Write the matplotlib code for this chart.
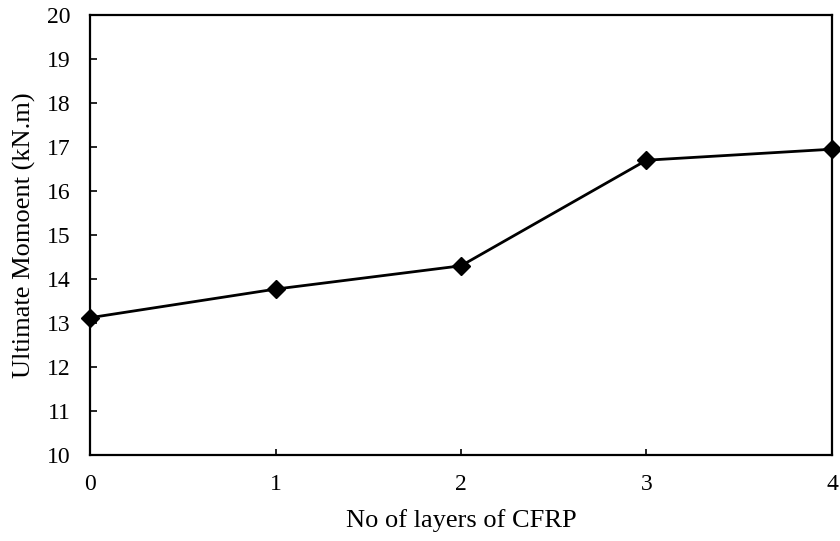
import matplotlib
matplotlib.use("Agg")
import matplotlib.pyplot as plt

# CFRP layer count vs. measured ultimate moment
layers = [0, 1, 2, 3, 4]
moment = [13.12, 13.77, 14.30, 16.70, 16.95]

y_ticks = list(range(10, 21))
x_ticks = [0, 1, 2, 3, 4]

plt.rcParams['font.family'] = ['Liberation Serif', 'DejaVu Serif']

fig = plt.figure(figsize=(8.4, 5.41), dpi=100)
ax = fig.add_axes([90 / 840, 1 - 455 / 541, 742 / 840, 440 / 541])

ax.plot(layers, moment, color='black', linewidth=2.0, marker='D',
        markersize=9, clip_on=False, zorder=3)

ax.set_xlim(0, 4)
ax.set_ylim(10, 20)
ax.set_xticks(x_ticks)
ax.set_yticks(y_ticks)

for side in ax.spines.values():
    side.set_linewidth(1.6)

ax.tick_params(axis='y', direction='in', length=5, width=1.2, labelsize=17, pad=14)
ax.tick_params(axis='x', direction='in', length=4, width=1.2, labelsize=17, pad=14)

ax.set_xlabel('No of layers of CFRP', fontsize=19, labelpad=10)
ax.set_ylabel('Ultimate Momoent (kN.m)', fontsize=19, labelpad=8)

fig.savefig('out.png', dpi=100)
